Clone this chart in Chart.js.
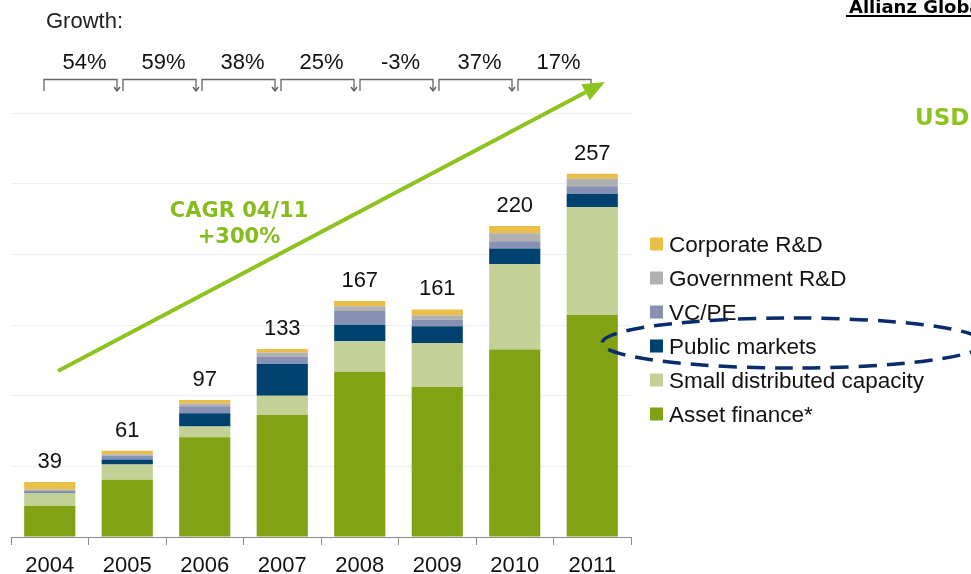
<!DOCTYPE html>
<html>
<head>
<meta charset="utf-8">
<script src="https://cdn.jsdelivr.net/npm/chart.js@4.4.1/dist/chart.umd.min.js"></script>
<style>
  html, body { margin:0; padding:0; background:#fff; }
  #wrap { position:relative; width:971px; height:574px; overflow:hidden; }
  #c { position:absolute; left:0; top:0; }
  #ov { position:absolute; left:0; top:0; }
</style>
</head>
<body>
<div id="wrap">
<canvas id="c" width="971" height="574"></canvas>
<svg id="ov" width="971" height="574" xmlns="http://www.w3.org/2000/svg"></svg>
</div>
<script>
// ---- data ----
const years = ['2004','2005','2006','2007','2008','2009','2010','2011'];
const assetFinance     = [22, 40.5, 70.5, 86.4, 117, 106.2, 132.7, 157.3];
const smallDistributed = [9, 10.8, 7.6, 13.5, 21.5, 31.1, 60.4, 76];
const publicMarkets    = [0.3, 3.6, 9.5, 22.5, 11.6, 11.9, 11.1, 9.5];
const vcPe             = [1.2, 2.5, 5, 5.4, 9.8, 4.5, 5, 5.4];
const governmentRD     = [0.9, 1.2, 1.6, 2.8, 3.3, 3.0, 5.7, 5.3];
const corporateRD      = [5.6, 2.4, 2.8, 2.4, 3.8, 4.3, 5.1, 3.5];
const growthLabels = ['54%','59%','38%','25%','-3%','37%','17%'];
const seriesNames = ['Asset finance*','Small distributed capacity','Public markets','VC/PE','Government R&D','Corporate R&D'];
const seriesColors = ['#80A214','#C3D096','#00426F','#8791B4','#B1B1B1','#E9BF49'];
const yTicks = {min:0, max:300, step:50};

const seriesData = [assetFinance, smallDistributed, publicMarkets, vcPe, governmentRD, corporateRD];
const totals = years.map((_, i) => seriesData.reduce((s, arr) => s + arr[i], 0));

const FONT = '"Liberation Sans", Arial, sans-serif';

const totalsPlugin = {
  id: 'totals',
  afterDatasetsDraw(chart) {
    const ctx = chart.ctx;
    const ys = chart.scales.y;
    const meta = chart.getDatasetMeta(0);
    ctx.save();
    ctx.font = '22px ' + FONT;
    ctx.fillStyle = '#111';
    ctx.textAlign = 'center';
    ctx.textBaseline = 'alphabetic';
    totals.forEach((t, i) => {
      const x = meta.data[i].x;
      ctx.fillText(String(Math.round(t)), x, ys.getPixelForValue(t) - 14);
    });
    ctx.restore();
  }
};

new Chart(document.getElementById('c'), {
  type: 'bar',
  data: {
    labels: years,
    datasets: seriesData.map((d, k) => ({
      label: seriesNames[k],
      data: d,
      backgroundColor: seriesColors[k],
      borderWidth: 0,
      barPercentage: 0.66,
      categoryPercentage: 1.0
    }))
  },
  options: {
    responsive: false,
    animation: false,
    devicePixelRatio: 1,
    layout: { padding: { left: 11, right: 340, top: 113, bottom: 0 } },
    plugins: { legend: { display: false }, tooltip: { enabled: false } },
    scales: {
      x: {
        stacked: true,
        grid: { drawOnChartArea: false, drawTicks: true, tickLength: 8, color: '#8a8a8a', offset: true },
        border: { display: true, color: '#8a8a8a' },
        ticks: { font: { size: 22, family: FONT }, color: '#111', padding: 8 },
        afterFit(s) { s.height = 37; }
      },
      y: {
        stacked: true,
        min: yTicks.min, max: yTicks.max,
        ticks: { display: false, stepSize: yTicks.step },
        grid: { color: '#efefef', drawTicks: false },
        border: { display: false },
        afterFit(s) { s.width = 0; }
      }
    }
  },
  plugins: [totalsPlugin]
});

// ---- annotations (SVG) ----
const NS = 'http://www.w3.org/2000/svg';
const svg = document.getElementById('ov');
function el(tag, attrs, text) {
  const e = document.createElementNS(NS, tag);
  for (const k in attrs) e.setAttribute(k, attrs[k]);
  if (text !== undefined) e.textContent = text;
  svg.appendChild(e);
  return e;
}
// Header
el('text', {x:46, y:28, 'font-family':FONT, 'font-size':22, fill:'#222'}, 'Growth:');
// Growth brackets
growthLabels.forEach((g, i) => {
  const L = 44 + 79 * i, R = L + 73;
  el('path', {d:`M${L},91 V79.5 H${R} V90`, fill:'none', stroke:'#666', 'stroke-width':1.3});
  el('path', {d:`M${R-3},87 L${R},91 L${R+3},87`, fill:'none', stroke:'#555', 'stroke-width':1.3});
  el('text', {x:(L + R) / 2 + 4, y:69, 'text-anchor':'middle', 'font-family':FONT, 'font-size':22, fill:'#111'}, g);
});
// CAGR arrow
const tip = [605, 82], start = [58, 371];
const dx = tip[0] - start[0], dy = tip[1] - start[1], len = Math.hypot(dx, dy);
const ux = dx / len, uy = dy / len, px = -uy, py = ux;
const hl = 22, hw = 9;
const bx = tip[0] - hl * ux, by = tip[1] - hl * uy;
el('line', {x1:start[0], y1:start[1], x2:bx, y2:by, stroke:'#8DC31F', 'stroke-width':4});
el('polygon', {points:`${tip[0]},${tip[1]} ${bx + hw*px},${by + hw*py} ${bx - hw*px},${by - hw*py}`, fill:'#8DC31F'});
el('text', {x:239, y:217, 'text-anchor':'middle', 'font-family':'"DejaVu Sans", Verdana, sans-serif', 'font-weight':'bold', 'font-size':21, fill:'#86BC1C'}, 'CAGR 04/11');
el('text', {x:239, y:243, 'text-anchor':'middle', 'font-family':'"DejaVu Sans", Verdana, sans-serif', 'font-weight':'bold', 'font-size':21, fill:'#86BC1C'}, '+300%');
// Legend (top to bottom)
const legendOrder = [5, 4, 3, 2, 1, 0];
legendOrder.forEach((k, r) => {
  const base = 252 + 34 * r;
  el('rect', {x:650, y:base - 14.5, width:13, height:13, fill:seriesColors[k]});
  el('text', {x:669, y:base, 'font-family':FONT, 'font-size':22.5, fill:'#111'}, seriesNames[k]);
});
// Dashed ellipse highlighting Public markets
el('ellipse', {cx:793, cy:343, rx:191, ry:25, fill:'none', stroke:'#0B2B6B', 'stroke-width':3.5, 'stroke-dasharray':'18 10'});
// Top-right header texts
el('text', {x:849, y:13, 'font-family':'"DejaVu Sans", Verdana, sans-serif', 'font-weight':'bold', 'font-size':18, fill:'#000'}, 'Allianz Global Investors');
el('line', {x1:846, y1:16, x2:971, y2:16, stroke:'#000', 'stroke-width':2});
el('text', {x:915, y:125, 'font-family':'"DejaVu Sans", Verdana, sans-serif', 'font-weight':'bold', 'font-size':23, fill:'#8DC31F'}, 'USD bn');
</script>
</body>
</html>
